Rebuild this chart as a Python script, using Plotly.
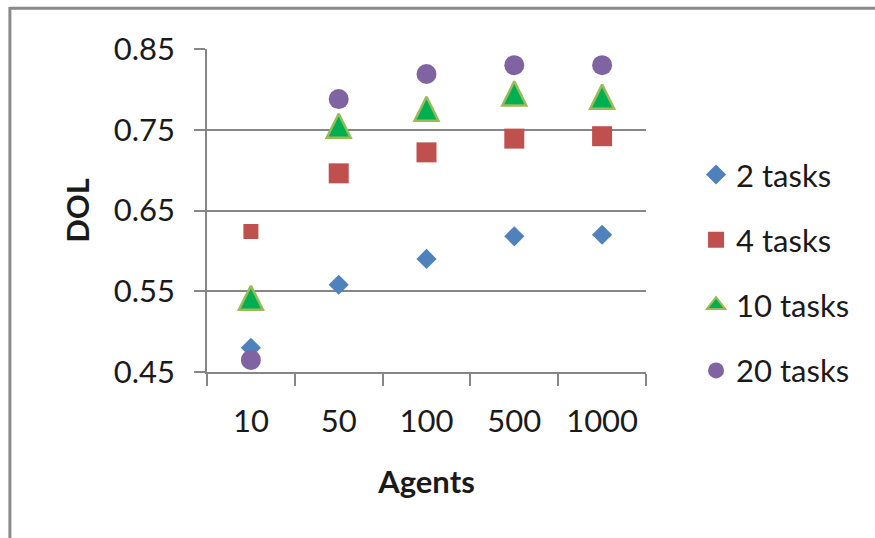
import plotly.graph_objects as go

agents = ["10", "50", "100", "500", "1000"]
series_names = ["2 tasks", "4 tasks", "10 tasks", "20 tasks"]
dol_2 = [0.480, 0.558, 0.590, 0.618, 0.620]
dol_4 = [0.624, 0.696, 0.722, 0.739, 0.742]
dol_10 = [0.542, 0.755, 0.776, 0.795, 0.791]
dol_20 = [0.465, 0.788, 0.819, 0.830, 0.830]
y_ticks = [0.45, 0.55, 0.65, 0.75, 0.85]

FONT = "Lato"
GRAY = "#868686"
TXT = "#1a1a1a"

fig = go.Figure()

fig.add_trace(go.Scatter(
    x=agents, y=dol_2, mode="markers", name=series_names[0], legendgroup="a",
    marker=dict(symbol="diamond", size=15.5, color="#4F81BD", opacity=1, line=dict(width=0)),
))
fig.add_trace(go.Scatter(
    x=agents, y=dol_4, mode="markers", name=series_names[1], legendgroup="b",
    marker=dict(symbol="square", size=[15, 20, 20, 20, 20], color="#C0504D", opacity=1,
                line=dict(width=0)),
))
fig.add_trace(go.Scatter(
    x=agents, y=dol_10, mode="markers", name=series_names[2], legendgroup="c",
    showlegend=False,
    marker=dict(symbol="arrow-down", angle=180, size=24, standoff=12, color="#00B050", opacity=1,
                line=dict(width=2.5, color="#9BBB59")),
))
# legend entry for the 10-tasks series (legend-sized marker)
fig.add_trace(go.Scatter(
    x=[None], y=[None], mode="markers", name=series_names[2], legendgroup="c",
    marker=dict(symbol="triangle-up", size=16, color="#00B050", opacity=1,
                line=dict(width=2, color="#9BBB59")),
))
fig.add_trace(go.Scatter(
    x=agents, y=dol_20, mode="markers", name=series_names[3], legendgroup="d",
    marker=dict(symbol="circle", size=20, color="#8064A2", opacity=1, line=dict(width=0)),
))

fig.update_layout(
    width=875, height=538,
    margin=dict(l=207, r=229, t=49, b=166),
    paper_bgcolor="white", plot_bgcolor="white",
    font=dict(family=FONT, size=31, color=TXT),
    showlegend=True,
    legend=dict(x=1.114, xanchor="left", y=0.694, yanchor="top",
                font=dict(family=FONT, size=31, color=TXT),
                tracegroupgap=22, bgcolor="rgba(0,0,0,0)"),
    xaxis=dict(
        type="category", showgrid=False, showline=True, linecolor=GRAY, linewidth=1.5,
        ticks="outside", ticklen=12, tickcolor=GRAY, tickwidth=1.5, tickson="boundaries",
        tickfont=dict(family=FONT, size=31, color=TXT), ticklabelstandoff=21,
        title=dict(text="Agents", font=dict(family=FONT, size=31, color=TXT, weight="bold"), standoff=33),
        range=[-0.5, 4.5], fixedrange=True,
    ),
    yaxis=dict(
        range=[0.45, 0.85], tickvals=y_ticks, tickformat=".2f",
        showgrid=True, gridcolor=GRAY, gridwidth=1.5, zeroline=False,
        showline=True, linecolor=GRAY, linewidth=1.5,
        ticks="outside", ticklen=11, tickcolor=GRAY, tickwidth=1.5,
        tickfont=dict(family=FONT, size=31, color=TXT), ticklabelstandoff=13,
        title=dict(text="DOL", font=dict(family=FONT, size=31, color=TXT, weight="bold"), standoff=15),
        fixedrange=True,
    ),
    shapes=[
        dict(type="line", xref="paper", yref="paper", x0=-0.449, x1=1.6, y0=1.126, y1=1.126,
             line=dict(color="#8a8a8a", width=3), layer="below"),
        dict(type="line", xref="paper", yref="paper", x0=-0.449, x1=-0.449, y0=-0.6, y1=1.13,
             line=dict(color="#8a8a8a", width=3), layer="below"),
    ],
)

fig.write_html(
    "out.html",
    config={"displayModeBar": False},
    post_script="document.body.style.margin='0';document.body.style.overflow='hidden';",
)
